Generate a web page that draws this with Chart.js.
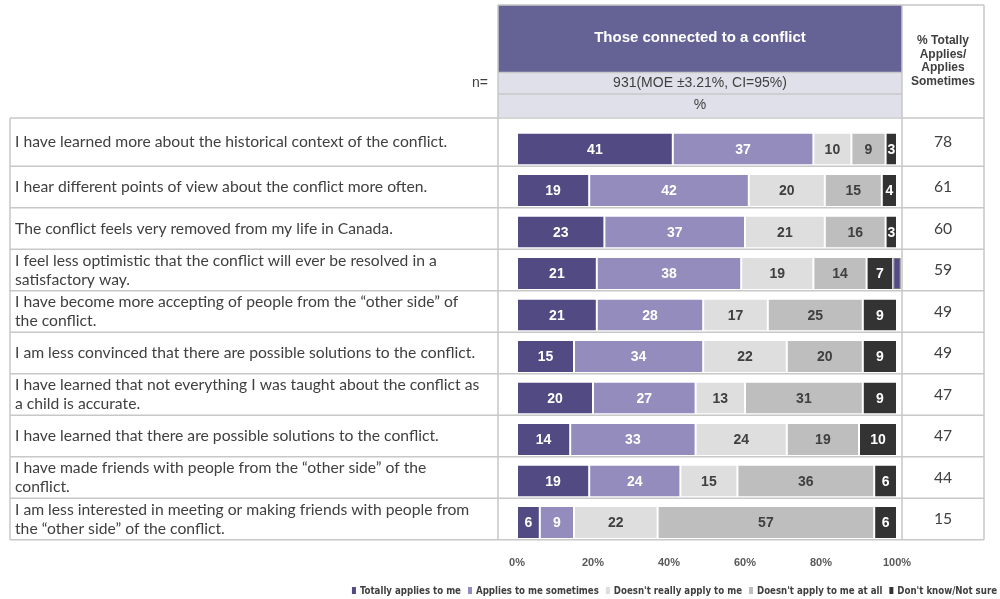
<!DOCTYPE html>
<html>
<head>
<meta charset="utf-8">
<script src="https://cdn.jsdelivr.net/npm/chart.js@4.4.1/dist/chart.umd.min.js"></script>
<style>
    html, body { margin: 0; padding: 0; background: #fff; }
    #wrap { position: relative; width: 1000px; height: 599px; }
    canvas { display: block; }
</style>
</head>
<body>
<div id="wrap"><canvas id="grafico" width="1000" height="599"></canvas></div>
<script>
// statements (rows), already wrapped like in the original table
const statements = [
    ['I have learned more about the historical context of the conflict.'],
    ['I hear different points of view about the conflict more often.'],
    ['The conflict feels very removed from my life in Canada.'],
    ['I feel less optimistic that the conflict will ever be resolved in a', 'satisfactory way.'],
    ['I have become more accepting of people from the \u201cother side\u201d of', 'the conflict.'],
    ['I am less convinced that there are possible solutions to the conflict.'],
    ['I have learned that not everything I was taught about the conflict as', 'a child is accurate.'],
    ['I have learned that there are possible solutions to the conflict.'],
    ['I have made friends with people from the \u201cother side\u201d of the', 'conflict.'],
    ['I am less interested in meeting or making friends with people from', 'the \u201cother side\u201d of the conflict.']
];

const totallyApplies = [41, 19, 23, 21, 21, 15, 20, 14, 19, 6];
const appliesSometimes = [37, 42, 37, 38, 28, 34, 27, 33, 24, 9];
const notReally = [10, 20, 21, 19, 17, 22, 13, 24, 15, 22];
const notAtAll = [9, 15, 16, 14, 25, 20, 31, 19, 36, 57];
const dontKnow = [3, 4, 3, 7, 9, 9, 9, 10, 6, 6];
// small leftover sliver drawn at the end of row 4 in the original
const leftover = [null, null, null, 2, null, null, null, null, null, null];

const netApplies = [78, 61, 60, 59, 49, 49, 47, 47, 44, 15];

const headerTitle = 'Those connected to a conflict';
const sampleText = '931(MOE \u00b13.21%, CI=95%)';
const netHeader = ['% Totally', 'Applies/', 'Applies', 'Sometimes'];

const BORDA = '#c8c8c8';

function rowEdges(chart) {
    const y = chart.scales.y;
    const half = (y.getPixelForValue(1) - y.getPixelForValue(0)) / 2;
    const edges = [118];
    for (let i = 0; i < statements.length; i++) {
        edges.push(y.getPixelForValue(i) + half - 3.5);
    }
    return edges;
}

const tabela = {
    id: 'tabela',
    beforeDraw(chart) {
        const c = chart.ctx;
        const edges = rowEdges(chart);
        const bottom = edges[edges.length - 1];
        c.save();

        // header boxes
        c.fillStyle = '#656396';
        c.fillRect(498, 5, 404, 67);
        c.fillStyle = '#e0e0ea';
        c.fillRect(498, 72, 404, 45);

        c.strokeStyle = BORDA;
        c.lineWidth = 1.5;
        c.beginPath();
        c.moveTo(498, 5); c.lineTo(984, 5);
        c.moveTo(498, 72.5); c.lineTo(902, 72.5);
        c.moveTo(498, 94); c.lineTo(902, 94);
        edges.forEach(e => { c.moveTo(10, e); c.lineTo(984, e); });
        c.moveTo(10, 118); c.lineTo(10, bottom);
        c.moveTo(498, 5); c.lineTo(498, bottom);
        c.moveTo(902, 5); c.lineTo(902, bottom);
        c.moveTo(984, 5); c.lineTo(984, bottom);
        c.stroke();

        c.textAlign = 'center';
        c.textBaseline = 'middle';
        c.fillStyle = '#ffffff';
        c.font = 'bold 15px "Liberation Sans", Arial, sans-serif';
        c.fillText(headerTitle, 700, 38);
        c.fillStyle = '#404040';
        c.font = '14px "Liberation Sans", Arial, sans-serif';
        c.fillText(sampleText, 700, 83);
        c.fillText('%', 700, 105);
        c.textAlign = 'right';
        c.fillText('n=', 488, 83);

        c.textAlign = 'center';
        c.font = 'bold 12px "Liberation Sans", Arial, sans-serif';
        netHeader.forEach((t, i) => c.fillText(t, 943, 41 + i * 13.5));

        // statements and net column
        for (let i = 0; i < statements.length; i++) {
            const mid = (edges[i] + edges[i + 1]) / 2;
            const linhas = statements[i];
            c.textAlign = 'left';
            c.fillStyle = '#404040';
            c.font = '15.7px Lato, "Open Sans", sans-serif';
            linhas.forEach((t, k) => {
                c.fillText(t, 15, mid + (k - (linhas.length - 1) / 2) * 19);
            });
            c.textAlign = 'center';
            c.fillText(String(netApplies[i]), 943, mid);
        }
        c.restore();
    },
    afterDatasetsDraw(chart) {
        const c = chart.ctx;
        c.save();
        c.textAlign = 'center';
        c.textBaseline = 'middle';
        c.font = 'bold 14px "Liberation Sans", Arial, sans-serif';
        chart.data.datasets.forEach((ds, i) => {
            if (!ds.valueColor) return;
            const meta = chart.getDatasetMeta(i);
            meta.data.forEach((bar, j) => {
                const v = ds.data[j];
                if (v == null) return;
                c.fillStyle = ds.valueColor;
                c.fillText(String(v), (bar.x + bar.base) / 2, bar.y + 1);
            });
        });
        c.restore();
    },
    afterDraw(chart) {
        // legend, right aligned under the plot
        const c = chart.ctx;
        c.save();
        c.font = 'bold 9.6px "Liberation Sans Narrow", "DejaVu Sans Condensed", Arial, sans-serif';
        c.textBaseline = 'middle';
        const itens = chart.data.datasets.filter(d => d.valueColor);
        const larguras = itens.map(d => c.measureText(d.label).width);
        let total = 0;
        larguras.forEach(w => total += 4 + 4 + w);
        total += 7 * (itens.length - 1);
        let x = 997 - total;
        const y = 591;
        itens.forEach((d, i) => {
            c.fillStyle = d.backgroundColor;
            c.fillRect(x, y - 4, 4, 7);
            x += 8;
            c.fillStyle = '#404040';
            c.textAlign = 'left';
            c.fillText(d.label, x, y);
            x += larguras[i] + 7;
        });
        c.restore();
    }
};

function serie(label, data, color, valueColor) {
    return {
        label: label,
        data: data,
        backgroundColor: color,
        borderColor: '#ffffff',
        borderWidth: { left: 1, right: 1, top: 0, bottom: 0 },
        borderSkipped: false,
        valueColor: valueColor
    };
}

const ctx = document.getElementById('grafico');

new Chart(ctx, {
    type: 'bar',
    data: {
        labels: statements,
        datasets: [
            serie('Totally applies to me', totallyApplies, '#514a83', '#ffffff'),
            serie('Applies to me sometimes', appliesSometimes, '#938cbd', '#ffffff'),
            serie("Doesn't really apply to me", notReally, '#dedede', '#404040'),
            serie("Doesn't apply to me at all", notAtAll, '#bebebe', '#404040'),
            serie("Don't know/Not sure", dontKnow, '#333333', '#ffffff'),
            {
                label: '',
                data: leftover,
                backgroundColor: '#514a83',
                borderColor: '#7a7a7a',
                borderWidth: 1,
                borderSkipped: false,
                clip: false
            }
        ]
    },
    plugins: [tabela],
    options: {
        responsive: false,
        animation: false,
        indexAxis: 'y',
        layout: { padding: { left: 0, right: 103, top: 128.25, bottom: 25.75 } },
        datasets: { bar: { barPercentage: 0.75, categoryPercentage: 1 } },
        plugins: {
            legend: { display: false },
            tooltip: { enabled: false }
        },
        scales: {
            x: {
                stacked: true,
                min: 0,
                max: 100,
                grid: { display: false, drawTicks: false },
                border: { display: false },
                ticks: {
                    stepSize: 20,
                    padding: 13,
                    color: '#595959',
                    font: { family: '"Liberation Sans", Arial, sans-serif', size: 11, weight: 'bold' },
                    callback: v => v + '%'
                },
                afterFit: s => { s.height = 30; }
            },
            y: {
                stacked: true,
                grid: { display: false, drawTicks: false },
                border: { display: false },
                ticks: { display: false },
                afterFit: s => { s.width = 517; }
            }
        }
    }
});
</script>
</body>
</html>
